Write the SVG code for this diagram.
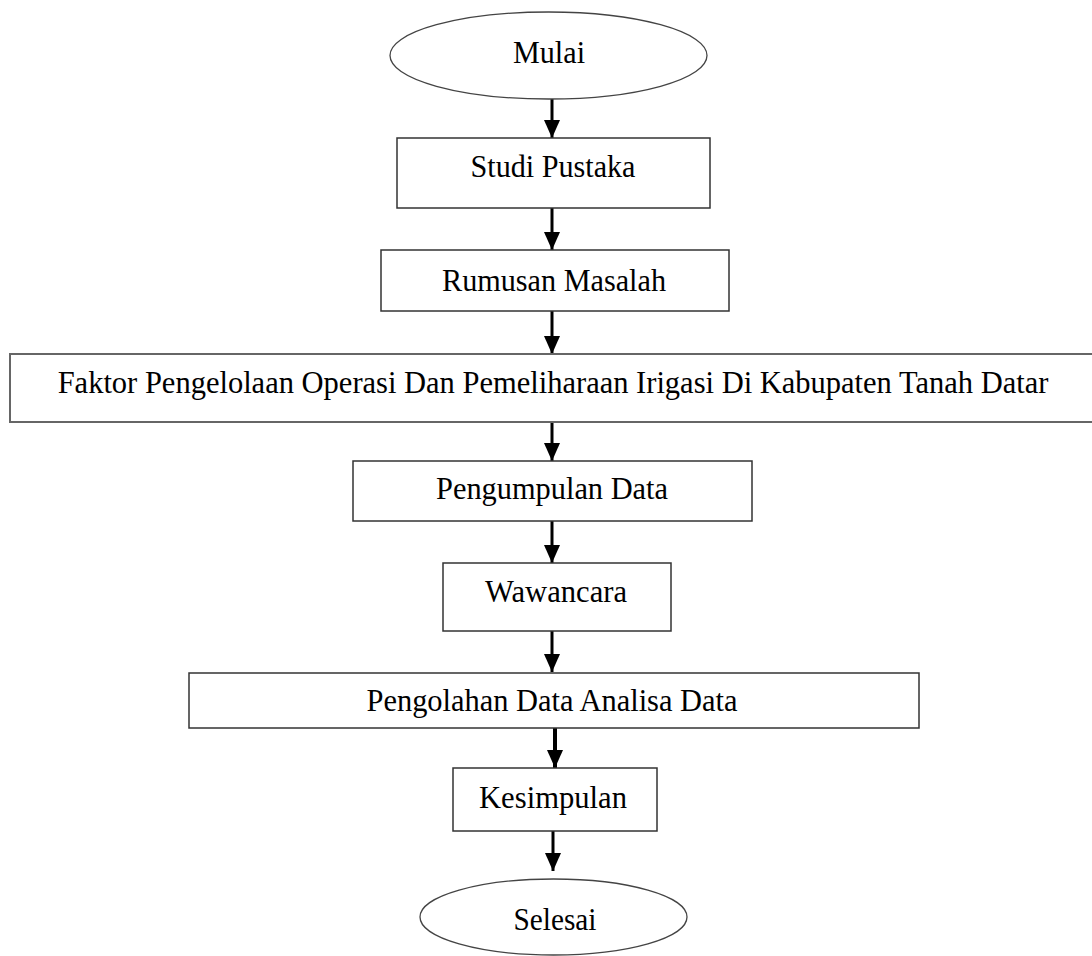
<svg xmlns="http://www.w3.org/2000/svg" width="1092" height="956" viewBox="0 0 1092 956">
<style>
.box{fill:#fff;stroke:#333;stroke-width:1.5}
.wide{fill:#fff;stroke:#666;stroke-width:2}
.term{fill:#fff;stroke:#444;stroke-width:1.3}
.lbl{font-family:"Liberation Serif","Times New Roman",serif;font-size:32px;fill:#000;text-anchor:middle}
.arr{stroke:#000;stroke-width:3;fill:none;marker-end:url(#ah)}
</style>
<defs>
<marker id="ah" markerUnits="userSpaceOnUse" markerWidth="18" markerHeight="16" refX="18" refY="8" orient="auto">
<path d="M0,0 L18,8 L0,16 z" fill="#000"/>
</marker>
</defs>
<rect width="1092" height="956" fill="#fff"/>
<g id="connectors">
<line class="arr" x1="552" y1="99" x2="552" y2="138"/>
<line class="arr" x1="552" y1="208" x2="552" y2="250"/>
<line class="arr" x1="552" y1="311" x2="552" y2="354"/>
<line class="arr" x1="552" y1="422" x2="552" y2="461"/>
<line class="arr" x1="552" y1="521" x2="552" y2="563"/>
<line class="arr" x1="552" y1="631" x2="552" y2="672"/>
<line class="arr" x1="555" y1="728" x2="555" y2="768" style="stroke-width:4"/>
<line class="arr" x1="553" y1="831" x2="553" y2="871"/>
</g>
<g id="mulai">
<ellipse class="term" cx="548.5" cy="55.5" rx="158.5" ry="43.5"/>
<text class="lbl" x="549" y="63" textLength="72" lengthAdjust="spacingAndGlyphs">Mulai</text>
</g>
<g id="studi">
<rect class="box" x="397" y="138" width="313" height="70"/>
<text class="lbl" x="553" y="177" textLength="165" lengthAdjust="spacingAndGlyphs">Studi Pustaka</text>
</g>
<g id="rumusan">
<rect class="box" x="381" y="250" width="348" height="61"/>
<text class="lbl" x="554" y="291" textLength="224" lengthAdjust="spacingAndGlyphs">Rumusan Masalah</text>
</g>
<g id="faktor">
<path class="wide" d="M1092,354 H10 V422 H1092"/>
<text class="lbl" x="553" y="393" style="font-size:30.5px">Faktor Pengelolaan Operasi Dan Pemeliharaan Irigasi Di Kabupaten Tanah Datar</text>
</g>
<g id="pengumpulan">
<rect class="box" x="353" y="461" width="399" height="60"/>
<text class="lbl" x="552" y="499" textLength="232" lengthAdjust="spacingAndGlyphs">Pengumpulan Data</text>
</g>
<g id="wawancara">
<rect class="box" x="443" y="563" width="228" height="68"/>
<text class="lbl" x="556" y="602" textLength="142" lengthAdjust="spacingAndGlyphs">Wawancara</text>
</g>
<g id="pengolahan">
<rect class="box" x="189" y="673" width="730" height="55"/>
<text class="lbl" x="552" y="711" textLength="371" lengthAdjust="spacingAndGlyphs">Pengolahan Data Analisa Data</text>
</g>
<g id="kesimpulan">
<rect class="box" x="453" y="768" width="204" height="63"/>
<text class="lbl" x="553" y="808" textLength="148" lengthAdjust="spacingAndGlyphs">Kesimpulan</text>
</g>
<g id="selesai">
<ellipse class="term" cx="553.5" cy="917" rx="133.5" ry="38"/>
<text class="lbl" x="555" y="930" textLength="83" lengthAdjust="spacingAndGlyphs">Selesai</text>
</g>
</svg>
